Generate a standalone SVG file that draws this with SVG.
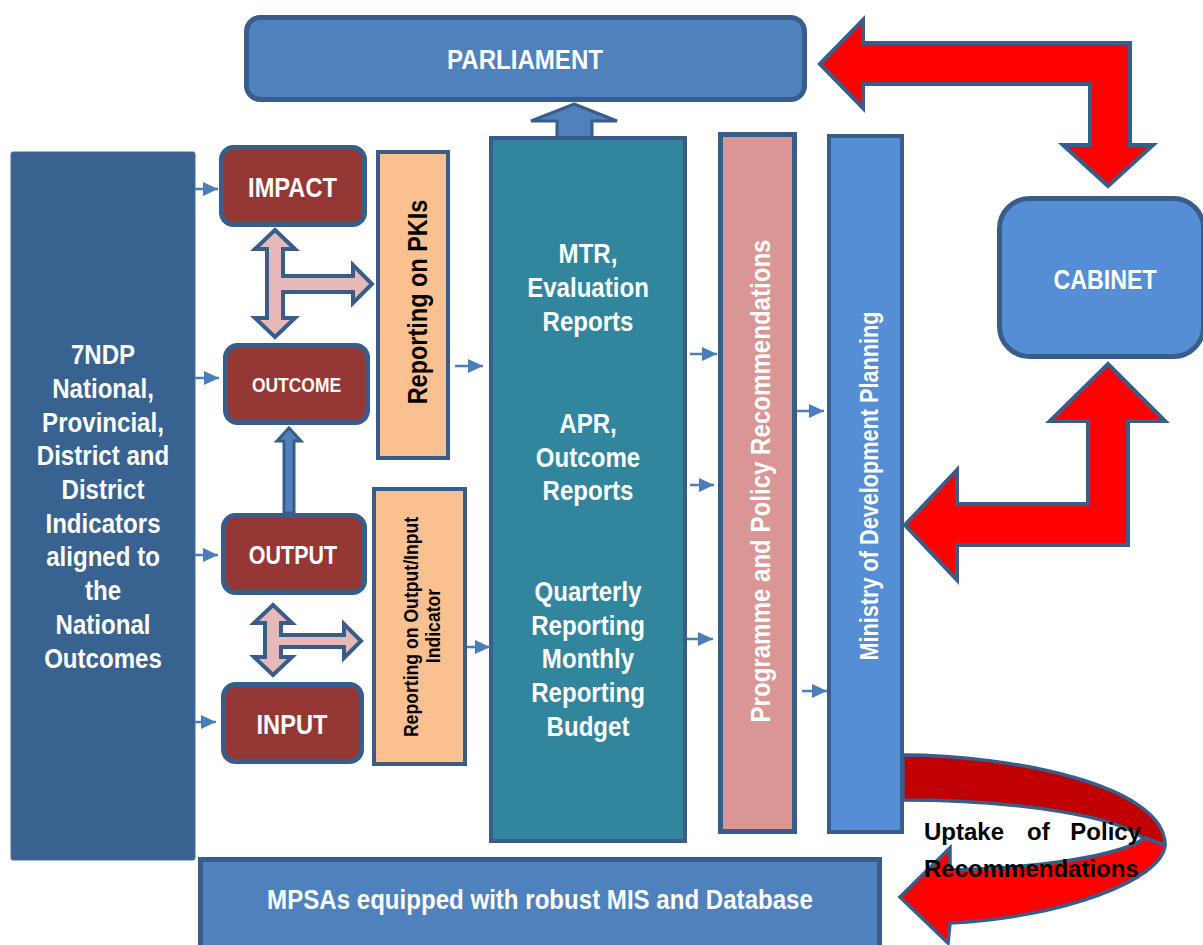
<svg xmlns="http://www.w3.org/2000/svg" width="1203" height="945" viewBox="0 0 1203 945">
<defs>
<style>
.t{font-family:"Liberation Sans",Arial,sans-serif;font-weight:bold;text-anchor:middle}
.w{fill:#ffffff}
.k{fill:#000000}
.bx{stroke:#385d8a;stroke-width:4}
.brown{fill:#953735;stroke:#385d8a;stroke-width:5}
.sm{stroke:#4a7ebb;stroke-width:2.5;fill:none}
.pinkarr{fill:#e6b9b8;stroke:#385d8a;stroke-width:4;stroke-linejoin:miter}
.bluearr{fill:#4f81bd;stroke:#385d8a;stroke-width:3}
.red{fill:#ff0000;stroke:#385d8a;stroke-width:4;stroke-linejoin:miter}
</style>
<marker id="ah" viewBox="0 0 15 14" refX="15" refY="7" markerWidth="15" markerHeight="14" markerUnits="userSpaceOnUse" orient="auto">
<path d="M0,0 L15,7 L0,14 z" fill="#4a7ebb"/>
</marker>
</defs>
<rect width="1203" height="945" fill="#ffffff"/>

<g id="connectors-back">
<polygon class="bluearr" points="574,104 617,121 592,121 592,139 557,139 557,121 531,121"/>
</g>

<g id="node-parliament">
<rect x="246.5" y="17.5" width="558" height="82" rx="14" fill="#4f81bd" stroke="#385d8a" stroke-width="5"/>
<text class="t w" font-size="28" transform="translate(525,69) scale(0.86,1)">PARLIAMENT</text>
</g>

<g id="node-left">
<rect x="11" y="152" width="184" height="708" rx="2" fill="#38628f" stroke="#4a6e9a" stroke-width="1"/>
<g class="t w" font-size="28" transform="translate(103,0) scale(0.86,1)">
<text x="0" y="364">7NDP</text>
<text x="0" y="398">National,</text>
<text x="0" y="432">Provincial,</text>
<text x="0" y="465">District and</text>
<text x="0" y="499">District</text>
<text x="0" y="533">Indicators</text>
<text x="0" y="566">aligned to</text>
<text x="0" y="600">the</text>
<text x="0" y="634">National</text>
<text x="0" y="668">Outcomes</text>
</g>
</g>

<g id="node-impact">
<rect class="brown" x="221.5" y="147.5" width="143" height="77" rx="12"/>
<text class="t w" font-size="27.5" transform="translate(292.5,197) scale(0.86,1)">IMPACT</text>
</g>
<g id="node-outcome">
<rect class="brown" x="225.5" y="345.5" width="142" height="77" rx="12"/>
<text class="t w" font-size="20.3" transform="translate(296.5,392) scale(0.86,1)">OUTCOME</text>
</g>
<g id="node-output">
<rect class="brown" x="223.5" y="515.5" width="141" height="77" rx="12"/>
<text class="t w" font-size="25" transform="translate(293,564) scale(0.86,1)">OUTPUT</text>
</g>
<g id="node-input">
<rect class="brown" x="223.5" y="684.5" width="138" height="77" rx="12"/>
<text class="t w" font-size="27.5" transform="translate(292,734) scale(0.86,1)">INPUT</text>
</g>

<g id="node-pki">
<rect class="bx" x="378" y="152" width="70" height="306" fill="#fac090"/>
<text class="t k" font-size="27.3" transform="translate(427,302) rotate(-90) scale(0.86,1)">Reporting on PKIs</text>
</g>

<g id="node-oi">
<rect class="bx" x="374" y="489" width="91" height="275" fill="#fac090"/>
<text class="t k" font-size="20.5" transform="translate(418,627) rotate(-90) scale(0.86,1)">Reporting on Output/Input</text>
<text class="t k" font-size="20.5" transform="translate(440,626) rotate(-90) scale(0.86,1)">Indicator</text>
</g>

<g id="node-teal">
<rect class="bx" x="491" y="138" width="194" height="703" fill="#31859c"/>
<g class="t w" font-size="28" transform="translate(588,0) scale(0.86,1)">
<text x="0" y="263">MTR,</text>
<text x="0" y="297">Evaluation</text>
<text x="0" y="331">Reports</text>
<text x="0" y="433">APR,</text>
<text x="0" y="467">Outcome</text>
<text x="0" y="500">Reports</text>
<text x="0" y="601">Quarterly</text>
<text x="0" y="635">Reporting</text>
<text x="0" y="668">Monthly</text>
<text x="0" y="702">Reporting</text>
<text x="0" y="736">Budget</text>
</g>
</g>

<g id="node-pink">
<rect x="720.5" y="134.5" width="74" height="697" fill="#d99694" stroke="#385d8a" stroke-width="5"/>
<text class="t w" font-size="28" transform="translate(770,481) rotate(-90) scale(0.86,1)">Programme and Policy Recommendations</text>
</g>

<g id="node-ministry">
<rect class="bx" x="829" y="136" width="73" height="696" fill="#558ed5"/>
<text class="t w" font-size="25.2" transform="translate(878,486) rotate(-90) scale(0.86,1)">Ministry of Development Planning</text>
</g>

<g id="node-cabinet">
<rect x="999.5" y="198.5" width="204" height="158" rx="30" fill="#558ed5" stroke="#385d8a" stroke-width="5"/>
<text class="t w" font-size="27" transform="translate(1105,289) scale(0.86,1)">CABINET</text>
</g>

<g id="node-mpsas">
<rect x="200.5" y="859.5" width="679" height="100" fill="#4f81bd" stroke="#385d8a" stroke-width="5"/>
<text class="t w" font-size="28" transform="translate(540,909) scale(0.86,1)">MPSAs equipped with robust MIS and Database</text>
</g>

<g id="connectors">
<line class="sm" x1="195" y1="189" x2="218" y2="189" marker-end="url(#ah)"/>
<line class="sm" x1="195" y1="378" x2="219" y2="378" marker-end="url(#ah)"/>
<line class="sm" x1="195" y1="555" x2="218" y2="555" marker-end="url(#ah)"/>
<line class="sm" x1="195" y1="722" x2="216" y2="722" marker-end="url(#ah)"/>
<line class="sm" x1="455" y1="366" x2="483" y2="366" marker-end="url(#ah)"/>
<line class="sm" x1="467" y1="647" x2="490" y2="647" marker-end="url(#ah)"/>
<line class="sm" x1="690" y1="354" x2="717" y2="354" marker-end="url(#ah)"/>
<line class="sm" x1="690" y1="485" x2="714" y2="485" marker-end="url(#ah)"/>
<line class="sm" x1="687" y1="639" x2="713" y2="639" marker-end="url(#ah)"/>
<line class="sm" x1="797" y1="411" x2="824" y2="411" marker-end="url(#ah)"/>
<line class="sm" x1="802" y1="691" x2="827" y2="691" marker-end="url(#ah)"/>

<polygon class="bluearr" points="289,428 301,441 294,441 294,513 284,513 284,441 277,441"/>

<polygon class="pinkarr" points="275,230 295,249 283,249 283,276 353,276 353,265 372,284 353,303 353,292 283,292 283,318 295,318 275,337 255,318 267,318 267,249 255,249"/>
<polygon class="pinkarr" points="273,605 292,623 281,623 281,635 344,635 344,624 361,641 344,658 344,647 281,647 281,657 292,657 273,675 254,657 265,657 265,623 254,623"/>

<polygon class="red" points="820,64 863,20 863,43 1130,43 1130,145 1153,145 1108,186 1063,145 1090,145 1090,84 863,84 863,108"/>
<polygon class="red" points="1108,364 1165,421 1128,421 1128,545 957,545 957,580 905,525 957,470 957,504 1088,504 1088,421 1050,421"/>

<path d="M903,755 C1010,755 1165,785 1165,845 L1145,840 C1120,815 1010,800 903,800 Z" fill="#c00000" stroke="#385d8a" stroke-width="3.5" stroke-linejoin="round"/>
<path d="M900,897 L950,848 L950,870 C1040,868 1120,856 1145,838 L1165,845 C1163,880 1060,918 950,923 L948,943 Z" fill="#ff0000" stroke="#385d8a" stroke-width="3.5" stroke-linejoin="miter"/>
</g>

<g id="label-uptake" class="k" font-family="Liberation Sans, Arial, sans-serif" font-weight="bold" font-size="24">
<text x="924" y="840">Uptake</text>
<text x="1027" y="840">of</text>
<text x="1141" y="840" text-anchor="end">Policy</text>
<text x="924" y="877">Recommendations</text>
</g>
</svg>
